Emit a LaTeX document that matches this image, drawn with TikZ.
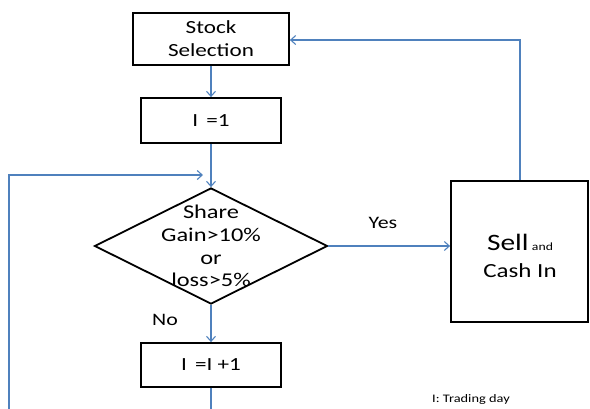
\documentclass[tikz,border=0pt]{standalone}
\usepackage{fontspec}
\setmainfont[FakeStretch=1.25]{Carlito}
\usetikzlibrary{arrows.meta,shapes.geometric}
\definecolor{lineblue}{RGB}{79,129,189}
\begin{document}
\begin{tikzpicture}[x=1pt,y=-1pt,
  box/.style={draw=black,line width=1.8pt,minimum width=#1,inner sep=0pt,align=center},
  conn/.style={draw=lineblue,line width=1.1pt,-{Straight Barb[length=5pt,width=9pt]}},
  plain/.style={draw=lineblue,line width=1.1pt},
  lbl/.style={font=\fontsize{17.5}{20}\selectfont}]
\useasboundingbox (0,0) rectangle (590,408);
\node[box=156pt,minimum height=52pt,font=\fontsize{18.5}{23}\selectfont] (stock) at (211,39) {Stock\\Selection};
\node[box=140pt,minimum height=45pt,font=\fontsize{18.5}{20}\selectfont] (init) at (211,120.5) {I\ \,=1};
\node[draw=black,line width=1.8pt,diamond,aspect=2,minimum width=233pt,minimum height=116pt,inner sep=0pt] (dec) at (211,246) {};
\node[align=center,font=\fontsize{19.5}{22.7}\selectfont] (dectext) at (211,246) {Share\\Gain>10\%\\or\\loss>5\%};
\node[box=137pt,minimum height=141pt] (sell) at (519.5,251.5) {};
\node[align=center,font=\fontsize{20}{27}\selectfont] (selltext) at (520,256) {{\fontsize{23.5}{27}\selectfont Sell}\,{\fontsize{11}{12}\selectfont and}\\Cash In};
\node[box=140pt,minimum height=44pt,font=\fontsize{18.5}{20}\selectfont] (incr) at (211,365) {I\ \,=I +1};
\node[lbl] (yes) at (383,223) {Yes};
\node[lbl] (no) at (165,320) {No};
\node[font=\fontsize{11.5}{13}\selectfont] (note) at (471,399) {I: Trading day};
\coordinate (bot) at (211,410);
\coordinate (leftbot) at (9,410);
\coordinate (lefttop) at (9,175);
\coordinate (arrend) at (203,175);
\coordinate (topright) at (520,40);
\draw[conn] (stock) -- (init);
\draw[conn] (init) -- (dec.north);
\draw[conn] (dec.south) -- (incr);
\draw[conn] (dec.east) -- (sell.west |- dec.east);
\draw[plain] (incr) -- (bot);
\draw[conn] (leftbot) -- (lefttop) -- (arrend);
\draw[conn] (sell.north -| topright) -- (topright) -- (stock.east |- topright);
\end{tikzpicture}
\end{document}
